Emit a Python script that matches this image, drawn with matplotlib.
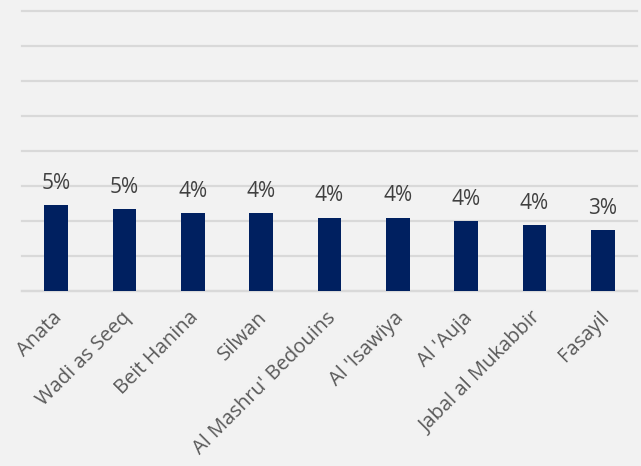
import matplotlib
matplotlib.use("Agg")
import matplotlib.pyplot as plt
from matplotlib.ticker import MultipleLocator
import matplotlib.transforms as mtransforms

categories = ["Anata", "Wadi as Seeq", "Beit Hanina", "Silwan", "Al Mashru' Bedouins",
              "Al 'Isawiya", "Al 'Auja", "Jabal al Mukabbir", "Fasayil"]
values = [0.049, 0.047, 0.0445, 0.0445, 0.042, 0.042, 0.040, 0.0375, 0.0348]

bg = "#f2f2f2"
plt.rcParams['font.family'] = ['Open Sans', 'DejaVu Sans']

fig = plt.figure(figsize=(6.41, 4.66), dpi=100, facecolor=bg)
ax = fig.add_axes([22/641, 1 - 291/466, (637-22)/641, (291-11)/466])
ax.set_facecolor(bg)

x = list(range(len(categories)))
bars = ax.bar(x, values, width=0.35, color="#002060", zorder=3)
ax.set_xlim(-0.5, len(categories) - 0.5)
ax.set_ylim(0, 0.16)
ax.yaxis.set_major_locator(MultipleLocator(0.02))
ax.grid(axis='y', color="#d9d9d9", linewidth=1.6, zorder=0)
for gl in ax.get_ygridlines():
    gl.set_clip_on(False)
ax.set_axisbelow(True)
ax.tick_params(axis='y', left=False, labelleft=False)
ax.tick_params(axis='x', length=0, pad=12, labelsize=14.5, labelcolor="#595959")
for s in ["top", "right", "left"]:
    ax.spines[s].set_visible(False)
ax.spines["bottom"].set_color("#d9d9d9")
ax.spines["bottom"].set_linewidth(1.6)

ax.set_xticks(x)
ax.set_xticklabels(categories, rotation=45, ha='right', rotation_mode='anchor')
offset = mtransforms.ScaledTranslation(-4/100, 0, fig.dpi_scale_trans)
for lbl in ax.get_xticklabels():
    lbl.set_transform(lbl.get_transform() + offset)

for xi, v in zip(x, values):
    ax.annotate(f"{v*100:.0f}%", (xi, v), xytext=(0, 8), textcoords='offset points',
                ha='center', va='bottom', fontsize=15, color="#404040")

fig.savefig("out.png", dpi=100, facecolor=bg)
